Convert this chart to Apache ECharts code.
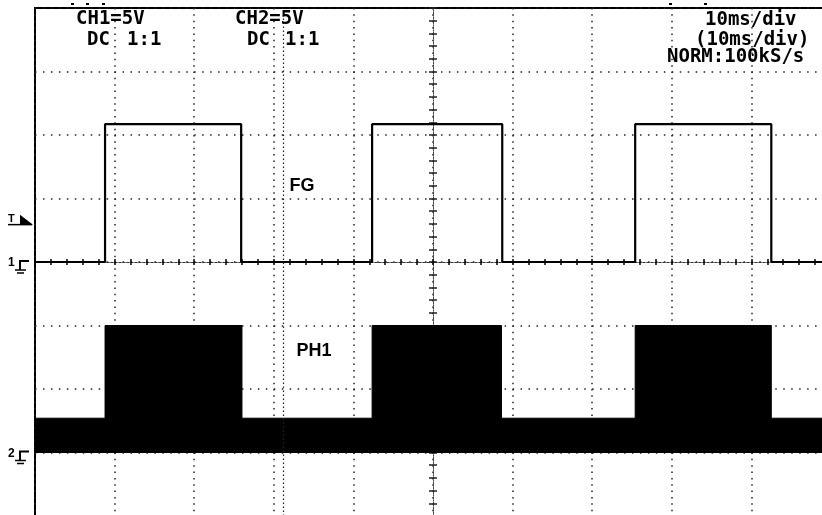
<!DOCTYPE html>
<html><head><meta charset="utf-8">
<script src="https://cdn.jsdelivr.net/npm/echarts@6/dist/echarts.min.js"></script>
<style>html,body{margin:0;padding:0;background:#fff}#c{width:822px;height:515px}</style>
</head><body><div id="c"></div>
<script>
// time in ms relative to screen centre (10 ms/div), voltages in V (5 V/div)
const fgTime   = [-50,-41.2,-41.2,-24.1,-24.1,-7.65,-7.65,8.7,8.7,25.4,25.4,42.5,42.5,50];
const fgVolts  = [0,0,10.85,10.85,0,0,10.85,10.85,0,0,10.85,10.85,0,0];
const ph1Time  = [-50,-41.2,-41.2,-24.0,-24.0,-7.65,-7.65,8.6,8.6,25.4,25.4,42.5,42.5,50];
const ph1LowVolts  = [0,0,0,0,0,0,0,0,0,0,0,0,0,0];
const ph1HighVolts = [2.7,2.7,10,10,2.7,2.7,10,10,2.7,2.7,10,10,2.7,2.7];
const ch2OffsetVolts = -15;
const cursorTime = [-18.85];
const trigLevelVolts = 3.1;
const groundMarks = [{label:'1', volts:0}, {label:'2', volts:-15}];
const xTickRange = [-50, 50, 10];
const yTickRange = [-20, 20, 5];

const chart = echarts.init(document.getElementById('c'), null, {renderer:'canvas'});

const fgData = fgTime.map((t,i)=>[t, fgVolts[i]]);
const phUpper = ph1Time.map((t,i)=>[t, ph1HighVolts[i] + ch2OffsetVolts]);
const phLower = ph1Time.map((t,i)=>[t, ph1LowVolts[i] + ch2OffsetVolts]);

const mono = 'bold 19px "DejaVu Sans Mono", monospace';
const dotX = {color:'#222', width:1.5, type:[1.5,4.85]};
const dotY = {color:'#222', width:1.5, type:[1.5,6.46]};

function xAx(pos, main){
  return {type:'value', position:pos, min:xTickRange[0], max:xTickRange[1], interval:xTickRange[2],
    axisLine:{show:true, onZero:true, lineStyle:{color:'#333', width:1, type:[2,2]}},
    axisTick:{show:true, length:3, lineStyle:{color:'#000', width:1.5}},
    minorTick:{show:true, splitNumber:5, length:3, lineStyle:{color:'#000', width:1.5}},
    axisLabel:{show:false},
    splitLine:{show:main, lineStyle:dotX}, minorSplitLine:{show:false}};
}
function yAx(pos, main){
  return {type:'value', position:pos, min:yTickRange[0], max:yTickRange[1], interval:yTickRange[2],
    axisLine:{show:true, onZero:true, onZeroAxisIndex:0, lineStyle:{color:'#444', width:1, type:[1,1.5]}},
    axisTick:{show:true, length:4, lineStyle:{color:'#222', width:1.5}},
    minorTick:{show:true, splitNumber:5, length:4, lineStyle:{color:'#222', width:1.5}},
    axisLabel:{show:false},
    splitLine:{show:main, lineStyle:dotY}, minorSplitLine:{show:false}};
}

const option = {
  animation:false,
  backgroundColor:'#fff',
  grid:{left:35, top:8, width:796, height:508, show:true, borderColor:'#000', borderWidth:2,
        backgroundColor:'transparent', containLabel:false, outerBoundsMode:'none'},
  xAxis:[xAx('bottom', true), xAx('top', false)],
  yAxis:[yAx('left', true), yAx('right', false)],
  series:[
    {name:'PH1', type:'custom', xAxisIndex:0, yAxisIndex:0, data:[[0,0]], clip:true, z:3, silent:true,
      renderItem:function(params, api){
        const pts = phUpper.map(p=>api.coord(p)).concat(phLower.slice().reverse().map(p=>api.coord(p)));
        return {type:'polygon', shape:{points:pts}, style:{fill:'#000', stroke:'#000', lineWidth:1}};
      }},
    {name:'FG', type:'line', xAxisIndex:0, yAxisIndex:0, data:fgData, symbol:'none',
      lineStyle:{color:'#000', width:2.2}, z:4,
      markLine:{silent:true, symbol:'none', label:{show:false},
        lineStyle:{color:'#222', width:1.2, type:[1.5,2.5]},
        data:cursorTime.map(t=>({xAxis:t}))}}
  ]
};
chart.setOption(option);

function py(v){ return chart.convertToPixel({yAxisIndex:0}, v); }
const g = [];
const txt = (x,y,s,font,align)=>g.push({type:'text', x:x, y:y,
  style:{text:s, font:font, fill:'#000', textAlign:align||'left', textVerticalAlign:'middle'}, z:10});
txt(76,19,'CH1=5V',mono); txt(87,40,'DC',mono); txt(127,40,'1:1',mono);
txt(235,19,'CH2=5V',mono); txt(247,40,'DC',mono); txt(285,40,'1:1',mono);
txt(705,20,'10ms/div',mono); txt(695,40,'(10ms/div)',mono); txt(667,57,'NORM:100kS/s',mono);
const lbl = 'bold 18px "Liberation Sans Narrow", "Liberation Sans", sans-serif';
txt(302,186,'FG',lbl,'center'); txt(314,351,'PH1',lbl,'center');

// top small markers
[72,87,103,670,705].forEach(x=>g.push({type:'rect', shape:{x:x-1, y:3, width:3, height:2}, style:{fill:'#000'}}));

// ground markers
groundMarks.forEach(m=>{
  const y = py(m.volts);
  g.push({type:'text', x:8, y:y+1, style:{text:m.label, font:'bold 12px "Liberation Sans", sans-serif', fill:'#000', textVerticalAlign:'middle'}});
  g.push({type:'polyline', shape:{points:[[29,y-1],[20,y-1],[20,y+8]]}, style:{stroke:'#000', lineWidth:2, fill:null}});
  g.push({type:'line', shape:{x1:15,y1:y+8,x2:26,y2:y+8}, style:{stroke:'#000', lineWidth:1.5}});
  g.push({type:'line', shape:{x1:17,y1:y+11,x2:24,y2:y+11}, style:{stroke:'#000', lineWidth:1.5}});
});
// trigger marker
const ty = py(trigLevelVolts);
g.push({type:'text', x:8, y:ty-4, style:{text:'T', font:'bold 11px "Liberation Sans", sans-serif', fill:'#000', textVerticalAlign:'middle'}});
g.push({type:'line', shape:{x1:8,y1:ty+2,x2:32,y2:ty+2}, style:{stroke:'#000', lineWidth:1.5}});
g.push({type:'polygon', shape:{points:[[20,ty-8],[33,ty+2],[20,ty+2]]}, style:{fill:'#000'}});

chart.setOption({graphic:g});
</script></body></html>
